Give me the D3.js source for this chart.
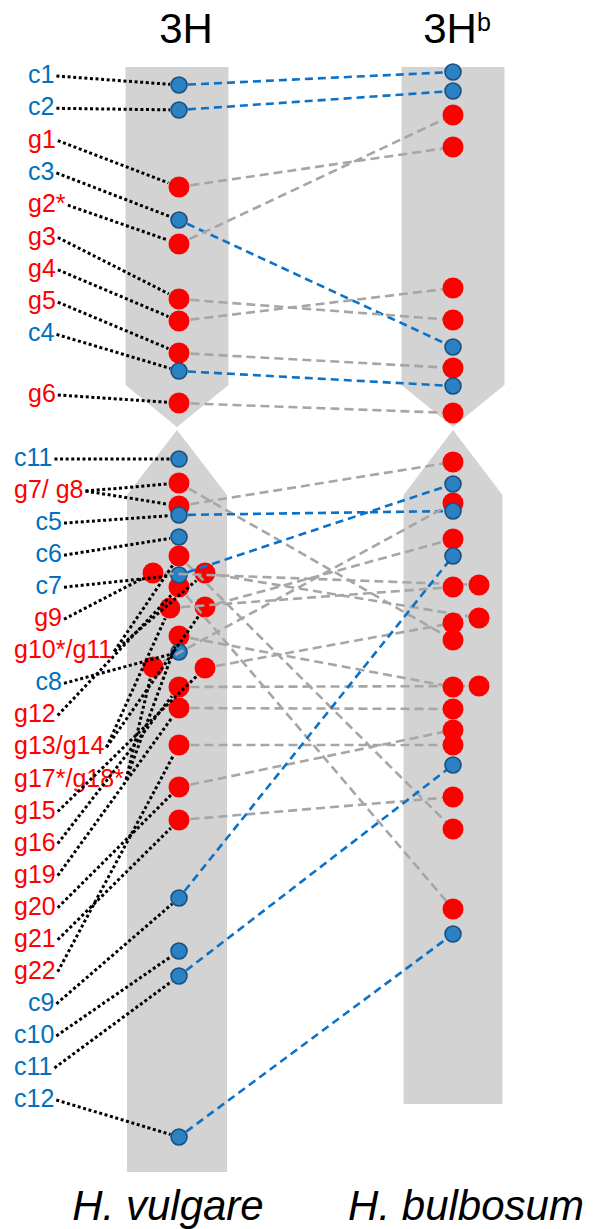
<!DOCTYPE html>
<html><head><meta charset="utf-8">
<script src="https://cdn.jsdelivr.net/npm/d3@7"></script>
<style>body{margin:0;background:#fff}svg{display:block}</style>
</head><body><svg id="chart" width="603" height="1229"></svg>
<script>
// ---------- data ----------
const markerIds  = ["c1","c2","g1","c3","g2","g3","g4","g5","c4","g6",
  "c11a","g7","g8","c5","c6","g10","g9","c7","g11","g12","g13","g14","g17","c8","g18","g15","g16","g19","g22","g20","g21","c9","c10","c11b","c12"];
const markerKind = ["c","c","g","c","g","g","g","g","c","g",
  "c","g","g","c","c","g","g","c","g","g","g","g","g","c","g","g","g","g","g","g","g","c","c","c","c"];
// position along 3H (H. vulgare)
const pos3H  = [18,43,120,153,177,232,254,286,304,336,
  392,416,439,448,470,489,506,508,506,520,541,540,569,585,600,601,620,641,678,720,753,831,884,909,1070];
const lane3H = [0,0,0,0,0,0,0,0,0,0,
  0,0,0,0,0,0,-1,0,1,0,-0.35,1,0,0,-1,1,0,0,0,0,0,0,0,0,0];
// position along 3Hb (H. bulbosum); null = no counterpart
const pos3Hb  = [5,24,80,280,48,253,221,301,319,346,
  null,573,395,444,null,762,518,417,551,842,520,472,620,null,436,556,619,642,678,663,730,489,null,698,867];
const lane3Hb = [0,0,0,0,0,0,0,0,0,0,
  0,0,0,0,0,0,1,0,1,0,0,0,0,0,0,0,1,0,0,0,0,0,0,0,0];

const labelTexts = ["c1","c2","g1","c3","g2*","g3","g4","g5","c4","g6",
  "c11","g7/ g8","c5","c6","c7","g9","g10*/g11","c8","g12","g13/g14","g17*/g18*","g15","g16","g19","g20","g21","g22","c9","c10","c11","c12"];
const labelTargets = [["c1"],["c2"],["g1"],["c3"],["g2"],["g3"],["g4"],["g5"],["c4"],["g6"],
  ["c11a"],["g7","g8"],["c5"],["c6"],["c7"],["g9"],["g10","g11"],["c8"],["g12"],["g13","g14"],["g17","g18"],["g15"],["g16"],["g19"],["g20"],["g21"],["g22"],["c9"],["c10"],["c11b"],["c12"]];

const chromNames   = ["3H","3H"];
const chromSup     = ["","b"];
const speciesNames = ["H. vulgare","H. bulbosum"];
const chromLength  = [1105, 1037];
const centro       = [318, 360, 363, 428]; // arm end, tip, lower tip, lower full width

// ---------- drawing ----------
const svg = d3.select("#chart");
const FONT = "'Liberation Sans', Arial, sans-serif";
const y = d3.scaleLinear().domain([0, 1105]).range([67, 1172]);
const xc = d3.scalePoint().domain([0,1]).range([177, 453]);
const halfW = [[51.5,50],[51.5,49.5]];
const BLUE_TXT = "#0070C0", RED = "#FF0000", GRAY = "#D3D3D3", LINE_GRAY = "#A6A6A6";
const BLUE_FILL = "#2A82C4", BLUE_STROKE = "#1B4F7C";

// chromosomes
[0,1].forEach(i => {
  const cx = xc(i), hu = halfW[i][0], hl = halfW[i][1];
  const up = [[cx-hu,y(0)],[cx+hu,y(0)],[cx+hu,y(centro[0])],[cx,y(centro[1])],[cx-hu,y(centro[0])]];
  const lo = [[cx,y(centro[2])],[cx+hl,y(centro[3])],[cx+hl,y(chromLength[i])],[cx-hl,y(chromLength[i])],[cx-hl,y(centro[3])]];
  [up, lo].forEach(p => svg.append("path").attr("d", d3.line()(p) + "Z").attr("fill", GRAY));
  const t = svg.append("text").attr("x", cx + (i ? 4 : 9)).attr("y", 43)
    .attr("text-anchor","middle").attr("font-family",FONT).attr("font-size",42).attr("fill","#000")
    .text(chromNames[i]);
  if (chromSup[i]) t.append("tspan").attr("font-size",25).attr("dy",-12).text(chromSup[i]);
  svg.append("text").attr("x", i ? 466 : 168).attr("y", 1220).attr("text-anchor","middle")
    .attr("font-family",FONT).attr("font-size",42).attr("font-style","italic").text(speciesNames[i]);
});

const LANE = 26;
const markers = markerIds.map((id,i) => ({
  id, kind: markerKind[i],
  lx: xc(0) + 2 + lane3H[i]*LANE, ly: y(pos3H[i]),
  rx: pos3Hb[i] == null ? null : xc(1) + lane3Hb[i]*LANE,
  ry: pos3Hb[i] == null ? null : y(pos3Hb[i]),
  r: markerKind[i] === "c" ? 8 : 10.5
}));
const byId = new Map(markers.map(m => [m.id, m]));

function drawMarkers(g, list, xk, yk) {
  const order = list.filter(m => m.kind === "g").concat(list.filter(m => m.kind === "c"));
  g.selectAll("circle").data(order).join("circle")
    .attr("cx", d => d[xk]).attr("cy", d => d[yk]).attr("r", d => d.r)
    .attr("fill", d => d.kind === "c" ? BLUE_FILL : RED)
    .attr("stroke", d => d.kind === "c" ? BLUE_STROKE : "none")
    .attr("stroke-width", 1.6);
}

// left markers
drawMarkers(svg.append("g"), markers, "lx", "ly");

// synteny lines
const links = markers.filter(m => m.rx != null);
svg.append("g").selectAll("line").data(links).join("line")
  .attr("x1", d => { const dx=d.rx-d.lx, dy=d.ry-d.ly, L=Math.hypot(dx,dy); return d.lx + dx/L*(d.r+1); })
  .attr("y1", d => { const dx=d.rx-d.lx, dy=d.ry-d.ly, L=Math.hypot(dx,dy); return d.ly + dy/L*(d.r+1); })
  .attr("x2", d => d.rx).attr("y2", d => d.ry)
  .attr("stroke", d => d.kind === "c" ? "#0A72C8" : LINE_GRAY)
  .attr("stroke-width", 2.6)
  .attr("stroke-dasharray", d => d.kind === "c" ? "8,5" : "9,5");

// right markers
drawMarkers(svg.append("g"), links, "rx", "ry");

// labels
const indentEnd = new Set(["c5","c6","c7","g9","c8"]);
const labG = svg.append("g");
labelTexts.forEach((txt, i) => {
  let base;
  if (i < 9) base = 83 + 32.3*i;
  else if (i === 9) base = 402;
  else base = 466 + 32.05*(i-10);
  let x, anchor = "start";
  if (i < 10) x = 28;
  else if (indentEnd.has(txt)) { x = 62; anchor = "end"; }
  else if (txt === "c9") x = 28;
  else x = 14;
  const t = labG.append("text").attr("x", x).attr("y", base).attr("text-anchor", anchor)
    .attr("font-family", FONT).attr("font-size", 25)
    .attr("fill", txt[0] === "c" ? BLUE_TXT : RED).text(txt);
  const bb = t.node().getBBox();
  const sx = bb.x + bb.width + 2, sy = base - 7;
  labelTargets[i].forEach(tid => {
    const m = byId.get(tid);
    const dx = m.lx - sx, dy = m.ly - sy, L = Math.hypot(dx, dy);
    labG.append("line").attr("x1", sx).attr("y1", sy)
      .attr("x2", m.lx - dx/L*(m.r+1)).attr("y2", m.ly - dy/L*(m.r+1))
      .attr("stroke", "#000").attr("stroke-width", 3).attr("stroke-dasharray", "3,2.6");
  });
});
</script></body></html>
